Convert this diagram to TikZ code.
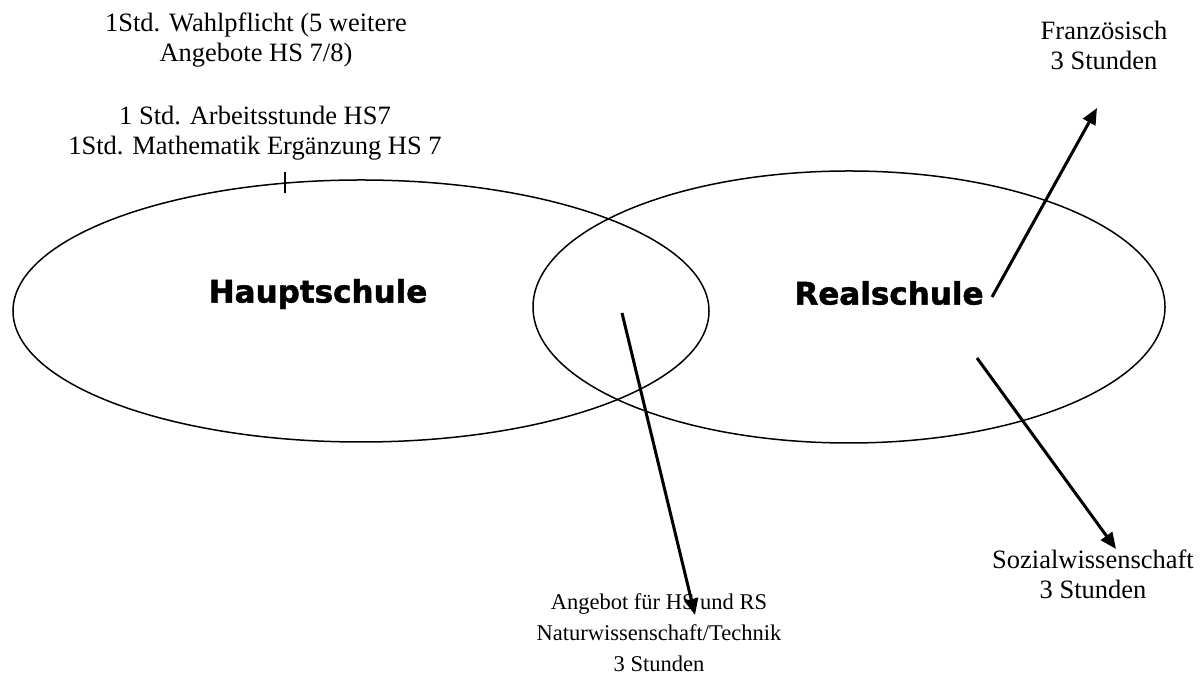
\documentclass[tikz,border=0pt]{standalone}
\usepackage{fontspec}
\setmainfont{Liberation Serif}
\newfontfamily\schoolfont{DejaVu Sans Bold}[FakeBold=1.6]
\usetikzlibrary{positioning,arrows.meta,shapes.geometric}

\begin{document}
\begin{tikzpicture}[x=0.4pt, y=-0.4pt,
  ring/.style={draw, ellipse, line width=0.6pt, inner sep=0pt},
  school/.style={font=\schoolfont\fontsize{12.4}{14}\selectfont},
  note/.style={align=center, font=\fontsize{10.6}{12}\selectfont, inner sep=0pt},
  offer/.style={line width=1.2pt, -{Triangle[length=6.5pt, width=5.5pt]}}]
\useasboundingbox (0,0) rectangle (1200,677);
% the two school types
\node[ring, minimum width=278.4pt, minimum height=104.8pt] (hs) at (361,311) {};
\node[ring, minimum width=252.8pt, minimum height=108.8pt] (rs) at (849,307) {};
\node[school] (hsname) at (318,294) {Hauptschule};
\node[school] (rsname) at (889,293) {Realschule};
\draw[line width=0.9pt] (285,172) -- (285,193);
% texts
\node[note] (wahl) at (256,40) {1Std. Wahlpflicht (5 weitere\\Angebote HS 7/8)};
\node[note] (arbeit) at (255,133) {1 Std. Arbeitsstunde HS7\\1Std. Mathematik Ergänzung HS 7};
\node[note] (franz) at (1104,45) {Französisch\\3 Stunden};
\node[note, font=\fontsize{9}{12.4}\selectfont] (natur) at (659,633) {Angebot für HS und RS\\Naturwissenschaft/Technik\\3 Stunden};
\node[note] (sozial) at (1093,574) {Sozialwissenschaft\\3 Stunden};
% arrows
\coordinate (rsout) at (992,297);
\coordinate (franzin) at (1097,108);
\coordinate (mid) at (622,313);
\coordinate (naturin) at (695,615);
\coordinate (rsin) at (977,358);
\coordinate (sozialin) at (1116,549);
\draw[offer] (rsout) -- (franzin);
\draw[offer] (mid) -- (naturin);
\draw[offer] (rsin) -- (sozialin);
\end{tikzpicture}
\end{document}
